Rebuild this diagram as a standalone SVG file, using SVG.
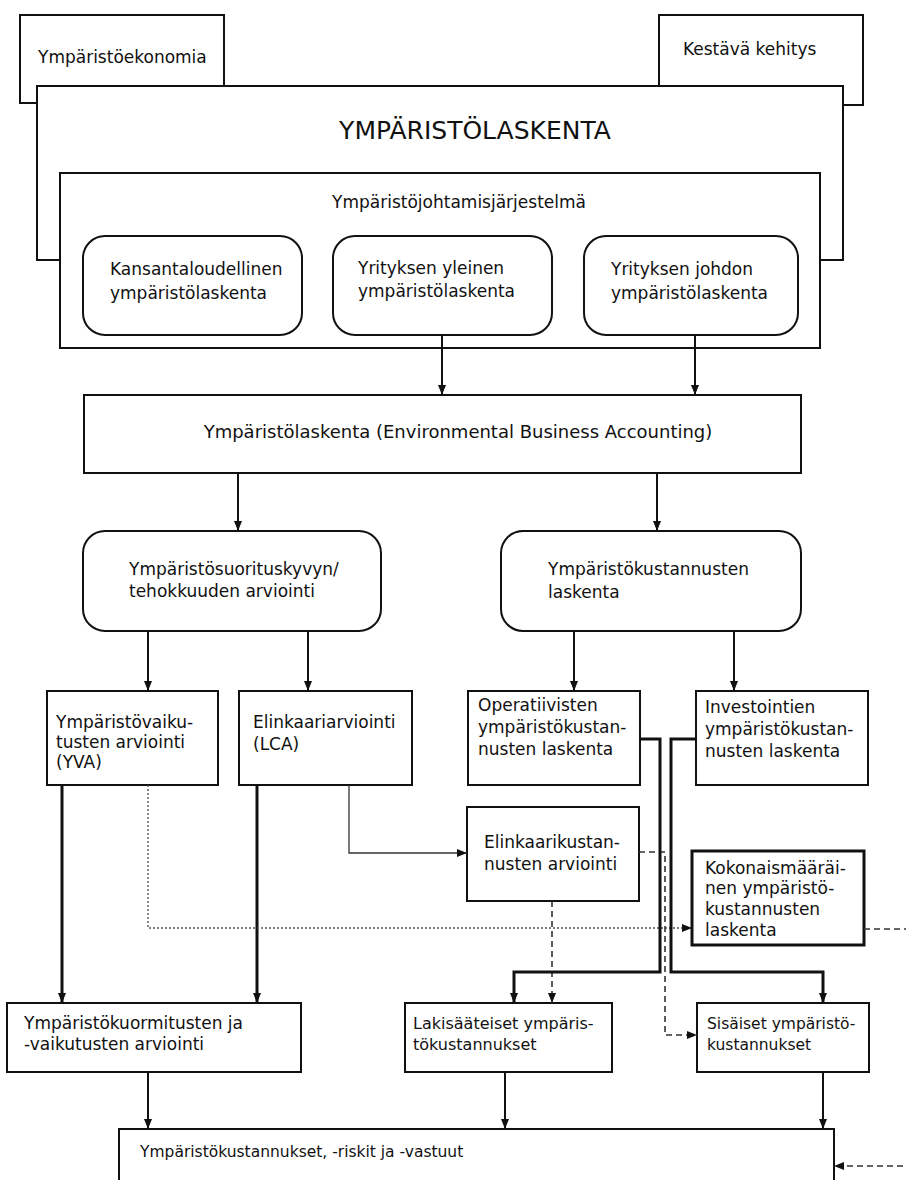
<svg xmlns="http://www.w3.org/2000/svg" width="906" height="1180" viewBox="0 0 906 1180">
<defs>
<style>
.box{fill:#fff;stroke:#111;stroke-width:2}
.thick{fill:#fff;stroke:#111;stroke-width:3}
.t{font-family:"DejaVu Sans","Liberation Sans",sans-serif;font-size:17px;fill:#111}
.big{font-size:25px}
.mid{font-size:18px}
.sm{font-size:15.5px}
.c{fill:none;stroke:#111;stroke-width:2}
.cb{fill:none;stroke:#111;stroke-width:3}
.cn{fill:none;stroke:#333;stroke-width:1.3}
.dash{fill:none;stroke:#333;stroke-width:1.6;stroke-dasharray:6 4}
.dot{fill:none;stroke:#555;stroke-width:1.4;stroke-dasharray:2 2}
</style>
<marker id="ah" viewBox="0 0 10 8" markerWidth="10" markerHeight="8" refX="10" refY="4" orient="auto" markerUnits="userSpaceOnUse">
<path d="M0,0 L10,4 L0,8 z" fill="#111"/>
</marker>
</defs>

<g id="ympekonomia"><rect class="box" x="20" y="15" width="204" height="88"/><text class="t" x="38" y="63">Ympäristöekonomia</text></g>
<g id="kestava"><rect class="box" x="659" y="15" width="204" height="90"/><text class="t" x="683" y="55">Kestävä kehitys</text></g>
<g id="ymplaskenta"><rect class="box" x="37" y="86" width="806" height="174"/><text class="t big" x="475" y="139" text-anchor="middle">YMPÄRISTÖLASKENTA</text></g>
<g id="johtamis"><rect class="box" x="60" y="173" width="760" height="175"/><text class="t" x="459" y="208" text-anchor="middle">Ympäristöjohtamisjärjestelmä</text></g>
<g id="kansan"><rect class="box" x="83" y="236" width="219" height="99" rx="22"/><text class="t" x="110" y="275">Kansantaloudellinen</text><text class="t" x="110" y="299">ympäristölaskenta</text></g>
<g id="yleinen"><rect class="box" x="333" y="236" width="219" height="99" rx="22"/><text class="t" x="358" y="274">Yrityksen yleinen</text><text class="t" x="358" y="297">ympäristölaskenta</text></g>
<g id="johdon"><rect class="box" x="584" y="236" width="214" height="99" rx="22"/><text class="t" x="611" y="275">Yrityksen johdon</text><text class="t" x="611" y="299">ympäristölaskenta</text></g>

<g id="eba"><rect class="box" x="84" y="395" width="717" height="78"/><text class="t mid" x="458" y="438" text-anchor="middle">Ympäristölaskenta (Environmental Business Accounting)</text></g>
<g id="suoritus"><rect class="box" x="83" y="531" width="298" height="100" rx="22"/><text class="t" x="129" y="575">Ympäristösuorituskyvyn/</text><text class="t" x="129" y="597">tehokkuuden arviointi</text></g>
<g id="kustannus"><rect class="box" x="501" y="531" width="300" height="100" rx="22"/><text class="t" x="548" y="575">Ympäristökustannusten</text><text class="t" x="548" y="598">laskenta</text></g>

<g id="yva"><rect class="box" x="47" y="691" width="171" height="94"/><text class="t" x="56" y="728">Ympäristövaiku-</text><text class="t" x="56" y="748">tusten arviointi</text><text class="t" x="56" y="768">(YVA)</text></g>
<g id="lca"><rect class="box" x="239" y="691" width="173" height="94"/><text class="t" x="253" y="728">Elinkaariarviointi</text><text class="t" x="253" y="750">(LCA)</text></g>
<g id="operatiivisten"><rect class="box" x="468" y="691" width="172" height="94"/><text class="t" x="478" y="711">Operatiivisten</text><text class="t" x="478" y="733">ympäristökustan-</text><text class="t" x="478" y="755">nusten laskenta</text></g>
<g id="investointien"><rect class="box" x="696" y="691" width="172" height="94"/><text class="t" x="705" y="713">Investointien</text><text class="t" x="705" y="735">ympäristökustan-</text><text class="t" x="705" y="757">nusten laskenta</text></g>
<g id="elinkaarikust"><rect class="box" x="467" y="807" width="172" height="94"/><text class="t" x="484" y="848">Elinkaarikustan-</text><text class="t" x="484" y="870">nusten arviointi</text></g>
<g id="kokonais"><rect class="thick" x="692" y="851" width="172" height="94"/><text class="t" x="705" y="874">Kokonaismääräi-</text><text class="t" x="705" y="894">nen ympäristö-</text><text class="t" x="705" y="915">kustannusten</text><text class="t" x="705" y="936">laskenta</text></g>

<g id="kuormitus"><rect class="box" x="7" y="1003" width="294" height="69"/><text class="t" x="24" y="1029">Ympäristökuormitusten ja</text><text class="t" x="24" y="1050">-vaikutusten arviointi</text></g>
<g id="lakisaateiset"><rect class="box" x="405" y="1003" width="207" height="69"/><text class="t" x="413" y="1029" style="font-size:16px">Lakisääteiset ympäris-</text><text class="t" x="413" y="1050" style="font-size:16px">tökustannukset</text></g>
<g id="sisaiset"><rect class="box" x="697" y="1003" width="172" height="69"/><text class="t sm" x="707" y="1029">Sisäiset ympäristö-</text><text class="t sm" x="707" y="1050">kustannukset</text></g>
<g id="vastuut"><rect class="box" x="119" y="1129" width="715" height="70"/><text class="t sm" x="140" y="1157">Ympäristökustannukset, -riskit ja -vastuut</text></g>

<g id="connectors">
<path class="c" d="M442,335 V395" marker-end="url(#ah)"/>
<path class="c" d="M695,335 V395" marker-end="url(#ah)"/>
<path class="c" d="M238,473 V531" marker-end="url(#ah)"/>
<path class="c" d="M657,473 V531" marker-end="url(#ah)"/>
<path class="c" d="M148,631 V691" marker-end="url(#ah)"/>
<path class="c" d="M308,631 V691" marker-end="url(#ah)"/>
<path class="c" d="M574,631 V691" marker-end="url(#ah)"/>
<path class="c" d="M734,631 V691" marker-end="url(#ah)"/>
<path class="cb" d="M62,785 V1003" marker-end="url(#ah)"/>
<path class="cb" d="M257,785 V1003" marker-end="url(#ah)"/>
<path class="dot" d="M148,785 V928 H692" marker-end="url(#ah)"/>
<path class="cn" d="M349,785 V853 H467" marker-end="url(#ah)"/>
<path class="dash" d="M639,852 H665 V1035 H697" marker-end="url(#ah)"/>
<path class="dash" d="M552,901 V1003" marker-end="url(#ah)"/>
<path class="cb" d="M640,739 H660 V972 H514 V1003" marker-end="url(#ah)"/>
<path class="cb" d="M696,739 H671 V972 H823 V1003" marker-end="url(#ah)"/>
<path class="c" d="M148,1072 V1129" marker-end="url(#ah)"/>
<path class="c" d="M505,1072 V1129" marker-end="url(#ah)"/>
<path class="c" d="M823,1072 V1129" marker-end="url(#ah)"/>
<path class="dash" d="M864,929 H915 V1166 H834" marker-end="url(#ah)"/>
</g>
</svg>
